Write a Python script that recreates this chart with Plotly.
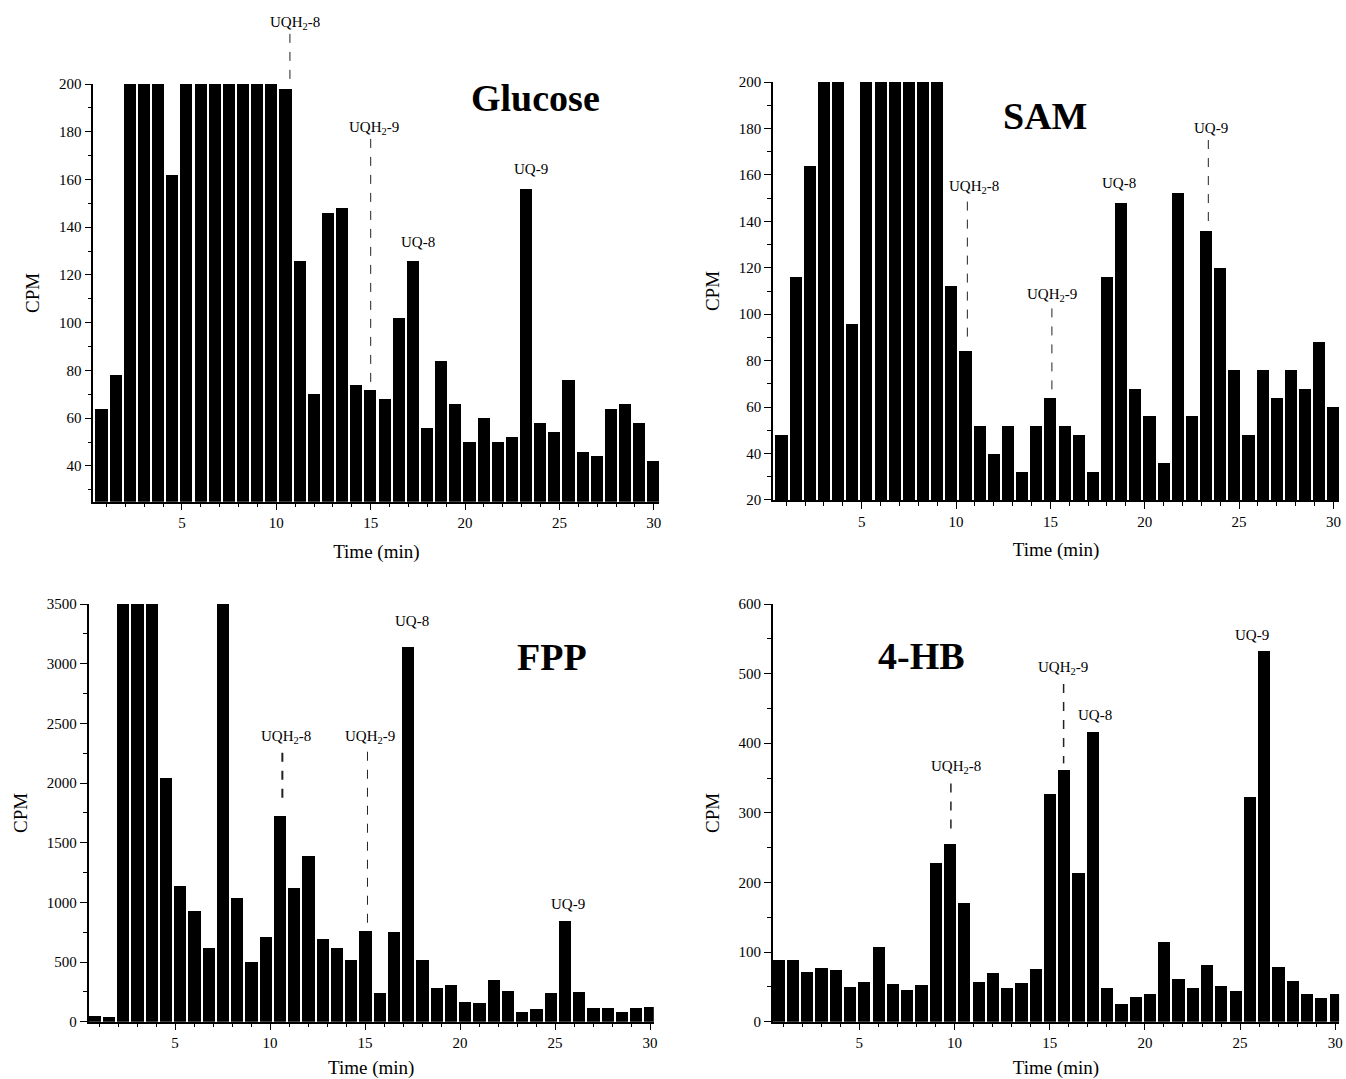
import plotly.graph_objects as go

# ---------------- data ----------------
time_min = [0.75, 1.5, 2.25, 3.0, 3.75, 4.5, 5.25, 6.0, 6.75, 7.5,
            8.25, 9.0, 9.75, 10.5, 11.25, 12.0, 12.75, 13.5, 14.25, 15.0,
            15.75, 16.5, 17.25, 18.0, 18.75, 19.5, 20.25, 21.0, 21.75, 22.5,
            23.25, 24.0, 24.75, 25.5, 26.25, 27.0, 27.75, 28.5, 29.25, 30.0]

glucose_cpm = [64, 78, 200, 200, 200, 162, 200, 200, 200, 200,
               200, 200, 200, 198, 126, 70, 146, 148, 74, 72,
               68, 102, 126, 56, 84, 66, 50, 60, 50, 52,
               156, 58, 54, 76, 46, 44, 64, 66, 58, 42]

sam_cpm = [48, 116, 164, 200, 200, 96, 200, 200, 200, 200,
           200, 200, 112, 84, 52, 40, 52, 32, 52, 64,
           52, 48, 32, 116, 148, 68, 56, 36, 152, 56,
           136, 120, 76, 48, 76, 64, 76, 68, 88, 60]

fpp_cpm = [50, 40, 3500, 3500, 3500, 2040, 1140, 930, 620, 3500,
           1040, 500, 710, 1720, 1120, 1390, 690, 620, 520, 760,
           240, 750, 3140, 520, 285, 310, 165, 160, 350, 255,
           85, 105, 240, 840, 245, 115, 115, 85, 115, 125]

hb_cpm = [88, 88, 72, 77, 74, 50, 57, 108, 54, 46,
          53, 228, 255, 171, 57, 70, 48, 56, 76, 327,
          361, 214, 416, 49, 25, 35, 40, 115, 62, 49,
          81, 51, 44, 323, 533, 79, 58, 40, 34, 40]

panel_names = ["Glucose", "SAM", "FPP", "4-HB"]

# peak labels: (text, label x, label y, line x, line top, line bottom, line width)
glucose_peaks = [("UQH<sub>2</sub>-8", 11.0, 221, 10.72, 221, 199.5, 1),
                 ("UQH<sub>2</sub>-9", 15.15, 177, 15.0, 177, 73, 1),
                 ("UQ-8", 17.5, 129.5, None, None, None, 0),
                 ("UQ-9", 23.5, 160, None, None, None, 0)]
sam_peaks = [("UQH<sub>2</sub>-8", 10.95, 150, 10.6, 148.5, 87.5, 1),
             ("UQH<sub>2</sub>-9", 15.1, 103.5, 15.08, 102.5, 66.5, 1),
             ("UQ-8", 18.65, 152, None, None, None, 0),
             ("UQ-9", 23.5, 176, 23.37, 175, 138, 1)]
fpp_peaks = [("UQ-8", 17.45, 3270, None, None, None, 0),
             ("UQH<sub>2</sub>-8", 10.85, 2290, 10.65, 2254, 1843, 2),
             ("UQH<sub>2</sub>-9", 15.25, 2290, 15.13, 2262, 824, 1),
             ("UQ-9", 25.7, 900, None, None, None, 0)]
hb_peaks = [("UQH<sub>2</sub>-8", 10.1, 350, 9.81, 342, 275, 1.5),
            ("UQH<sub>2</sub>-9", 15.7, 492, 15.73, 485, 371, 1.5),
            ("UQ-8", 17.4, 426, None, None, None, 0),
            ("UQ-9", 25.65, 541, None, None, None, 0)]

# ---------------- layout settings ----------------
FONT = "Liberation Serif"
W, H = 1346, 1079

panels = [
    dict(y=glucose_cpm, name="Glucose", peaks=glucose_peaks,
         xdom=[0.06932, 0.48990], ydom=[0.53503, 0.92215],
         xr=[0.3, 30.3], yr=[25, 200], dt=20, mdt=10,
         title_pos=(23.75, 194)),
    dict(y=sam_cpm, name="SAM", peaks=sam_peaks,
         xdom=[0.57429, 0.99487], ydom=[0.53661, 0.92400],
         xr=[0.3, 30.3], yr=[20, 200], dt=20, mdt=10,
         title_pos=(14.72, 185.5)),
    dict(y=fpp_cpm, name="FPP", peaks=fpp_peaks,
         xdom=[0.06579, 0.48574], ydom=[0.05311, 0.44022],
         xr=[0.45, 30.2], yr=[0, 3500], dt=500, mdt=250,
         title_pos=(24.85, 3060)),
    dict(y=hb_cpm, name="4-HB", peaks=hb_peaks,
         xdom=[0.57407, 0.99487], ydom=[0.05311, 0.44022],
         xr=[0.45, 30.2], yr=[0, 600], dt=100, mdt=50,
         title_pos=(8.25, 525)),
]

fig = go.Figure()
annotations = []
shapes = []

for i, p in enumerate(panels, start=1):
    sx = "" if i == 1 else str(i)
    xref, yref = "x" + sx, "y" + sx
    lo, hi = p["yr"]

    def dom(v):
        return (v - lo) / (hi - lo)

    fig.add_trace(go.Bar(x=time_min, y=p["y"], width=0.64,
                         marker=dict(color="black", line=dict(width=0)),
                         xaxis=xref, yaxis=yref, showlegend=False,
                         name=p["name"]))

    axis_common = dict(showline=True, linecolor="black", linewidth=1.5,
                       ticks="outside", ticklen=7, tickwidth=1.3,
                       tickcolor="black", showgrid=False, zeroline=False,
                       mirror=False, automargin=False,
                       ticklabeloverflow="allow",
                       tickfont=dict(family=FONT, size=15, color="black"))
    fig.layout["xaxis" + sx] = dict(
        **axis_common, domain=p["xdom"], range=p["xr"],
        anchor=yref, tick0=0, dtick=5,
        minor=dict(dtick=1, ticks="outside", ticklen=4, tickwidth=1.2,
                   tickcolor="black", showgrid=False),
        title=dict(text="Time (min)", standoff=14,
                   font=dict(family=FONT, size=19, color="black")))
    fig.layout["yaxis" + sx] = dict(
        **axis_common, domain=p["ydom"], range=p["yr"],
        anchor=xref, tick0=0, dtick=p["dt"],
        minor=dict(dtick=p["mdt"], ticks="outside", ticklen=4, tickwidth=1.2,
                   tickcolor="black", showgrid=False),
        title=dict(text="CPM", standoff=14,
                   font=dict(family=FONT, size=19, color="black")))

    # panel title
    tx, ty = p["title_pos"]
    annotations.append(dict(text="<b>%s</b>" % p["name"], x=tx, y=dom(ty),
                            xref=xref, yref=yref + " domain",
                            showarrow=False, xanchor="center", yanchor="middle",
                            font=dict(family=FONT, size=38, color="black")))

    # peak labels and dashed guide lines
    for (txt, lx, ly, linex, ltop, lbot, lw) in p["peaks"]:
        annotations.append(dict(text=txt, x=lx, y=dom(ly),
                                xref=xref, yref=yref + " domain",
                                showarrow=False, xanchor="center",
                                yanchor="bottom",
                                font=dict(family=FONT, size=15, color="black")))
        if linex is not None:
            shapes.append(dict(type="line", xref=xref, yref=yref + " domain",
                               x0=linex, x1=linex, y0=dom(ltop), y1=dom(lbot),
                               line=dict(color="#222222", width=lw, dash="dash")))

fig.update_layout(width=W, height=H, autosize=False,
                  margin=dict(l=0, r=0, t=0, b=0),
                  paper_bgcolor="white", plot_bgcolor="white",
                  bargap=0, annotations=annotations, shapes=shapes,
                  font=dict(family=FONT, color="black"))

fig.write_html(
    "out.html",
    config={"displayModeBar": False},
    post_script="document.body.style.margin='0';"
                "document.documentElement.style.overflow='hidden';"
                "document.body.style.overflow='hidden';")
